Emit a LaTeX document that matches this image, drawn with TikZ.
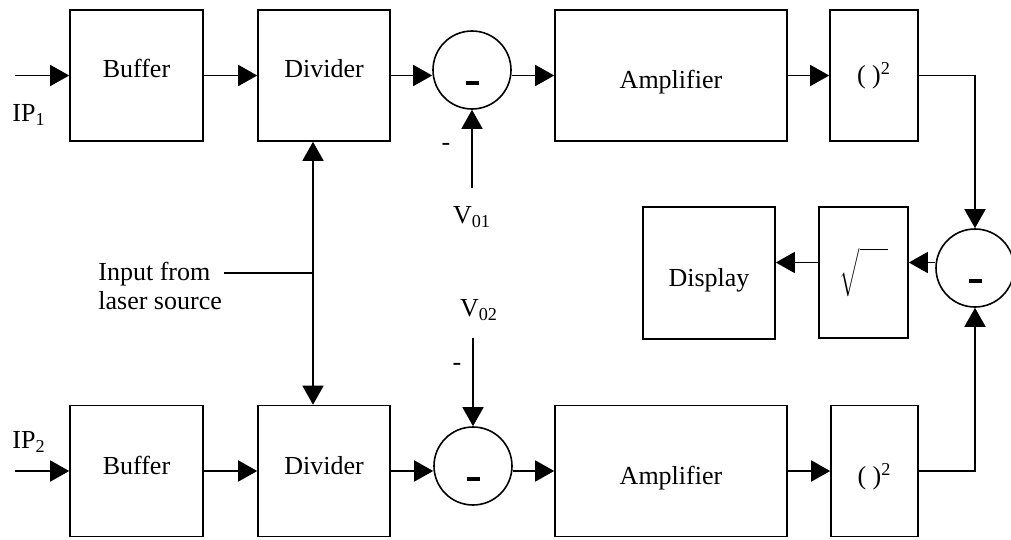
\documentclass[tikz,border=0pt]{standalone}
\usepackage{fontspec}
\setmainfont{Liberation Serif}
\usetikzlibrary{arrows.meta}

\begin{document}
\begin{tikzpicture}[x=0.5pt,y=-0.5pt,
  font=\fontsize{13}{14.5}\selectfont,
  >={Triangle[length=9.5pt,width=10.5pt]},
  blk/.style={draw,line width=0.8pt,minimum height=65.5pt,inner sep=0pt},
  up/.style={text height=9pt,text depth=#1},
  down/.style={text height=#1,text depth=0pt},
  sumnode/.style={draw,circle,line width=0.8pt,minimum size=39pt,inner sep=0pt,
    label={[yshift=-6.5pt,inner sep=0pt]center:\rule{6.5pt}{1.6pt}}},
  arr/.style={line width=0.8pt,->},
  wire/.style={line width=0.8pt}]
  % Constants
  \pgfmathsetmacro\ya{75.5}
  \pgfmathsetmacro\yb{471}
  % Boundary
  \path[use as bounding box] (0,0) rectangle (1011,540);
  % Upper channel
  \coordinate (in1) at (15,\ya);
  \node[blk,up=7pt,minimum width=66.5pt] (buf1) at (136.5,\ya) {Buffer};
  \node[blk,up=7pt,minimum width=66pt] (div1) at (324,\ya) {Divider};
  \node[sumnode] (c1) at (472,70) {};
  \node[blk,down=13.5pt,minimum width=116pt] (amp1) at (671,\ya) {Amplifier};
  \node[blk,minimum width=44pt] (sq1) at (874,\ya) {(\ )\textsuperscript{2}};
  \node (ip1) at (29,115) {IP\textsubscript{1}};
  \draw[arr] (in1) -- (buf1);
  \draw[arr] (buf1) -- (div1);
  \draw[arr] (div1.east) -- (div1.east -| c1.west);
  \draw[arr] (amp1.west -| c1.east) -- (amp1.west);
  \draw[arr] (amp1) -- (sq1);
  % Offset V01
  \coordinate (v1) at (472,188);
  \draw[arr] (v1) -- (c1.south);
  \node (v1lab) at (472,217) {V\textsubscript{01}};
  \node (m1) at (446,147) {-};
  % Lower channel
  \coordinate (in2) at (15,\yb);
  \node[blk,up=6pt,minimum width=66.5pt] (buf2) at (136.5,\yb) {Buffer};
  \node[blk,up=6pt,minimum width=66pt] (div2) at (324,\yb) {Divider};
  \node[sumnode] (c2) at (473,466) {};
  \node[blk,down=13.5pt,minimum width=116pt] (amp2) at (671,\yb) {Amplifier};
  \node[blk,down=13pt,minimum width=43.5pt] (sq2) at (874.5,\yb) {(\ )\textsuperscript{2}};
  \node (ip2) at (29,442) {IP\textsubscript{2}};
  \draw[arr] (in2) -- (buf2);
  \draw[arr] (buf2) -- (div2);
  \draw[arr] (div2.east) -- (div2.east -| c2.west);
  \draw[arr] (amp2.west -| c2.east) -- (amp2.west);
  \draw[arr] (amp2) -- (sq2);
  % Offset V02
  \coordinate (v2) at (473,338);
  \draw[arr] (v2) -- (c2.north);
  \node (v2lab) at (479,310) {V\textsubscript{02}};
  \node (m2) at (457,367) {-};
  % Laser source
  \coordinate (lz) at (313,273);
  \coordinate (lsrc) at (224,273);
  \node[anchor=north west,align=left,inner sep=0pt] (laser) at (98,262) {Input from\\laser source};
  \draw[wire] (lsrc) -- (lz);
  \draw[arr,<->] (div1.south -| lz) -- (div2.north -| lz);
  % Output stage
  \node[sumnode] (c3) at (975,268) {};
  \node[blk,minimum width=44.5pt] (sqr) at (863.5,272.5) {$\sqrt{\rule{0pt}{19pt}\hspace{14pt}}$};
  \node[blk,down=13pt,minimum width=66pt,minimum height=66pt] (disp) at (709,273) {Display};
  \draw[arr] (sq1.east) -- (sq1.east -| c3) -- (c3.north);
  \draw[arr] (sq2.east) -- (sq2.east -| c3) -- (c3.south);
  \draw[arr] ([yshift=5pt]sqr.east -| c3.west) -- ([yshift=5pt]sqr.east);
  \draw[arr] ([yshift=5pt]sqr.west) -- ([yshift=5pt]sqr.west -| disp.east);
\end{tikzpicture}
\end{document}
